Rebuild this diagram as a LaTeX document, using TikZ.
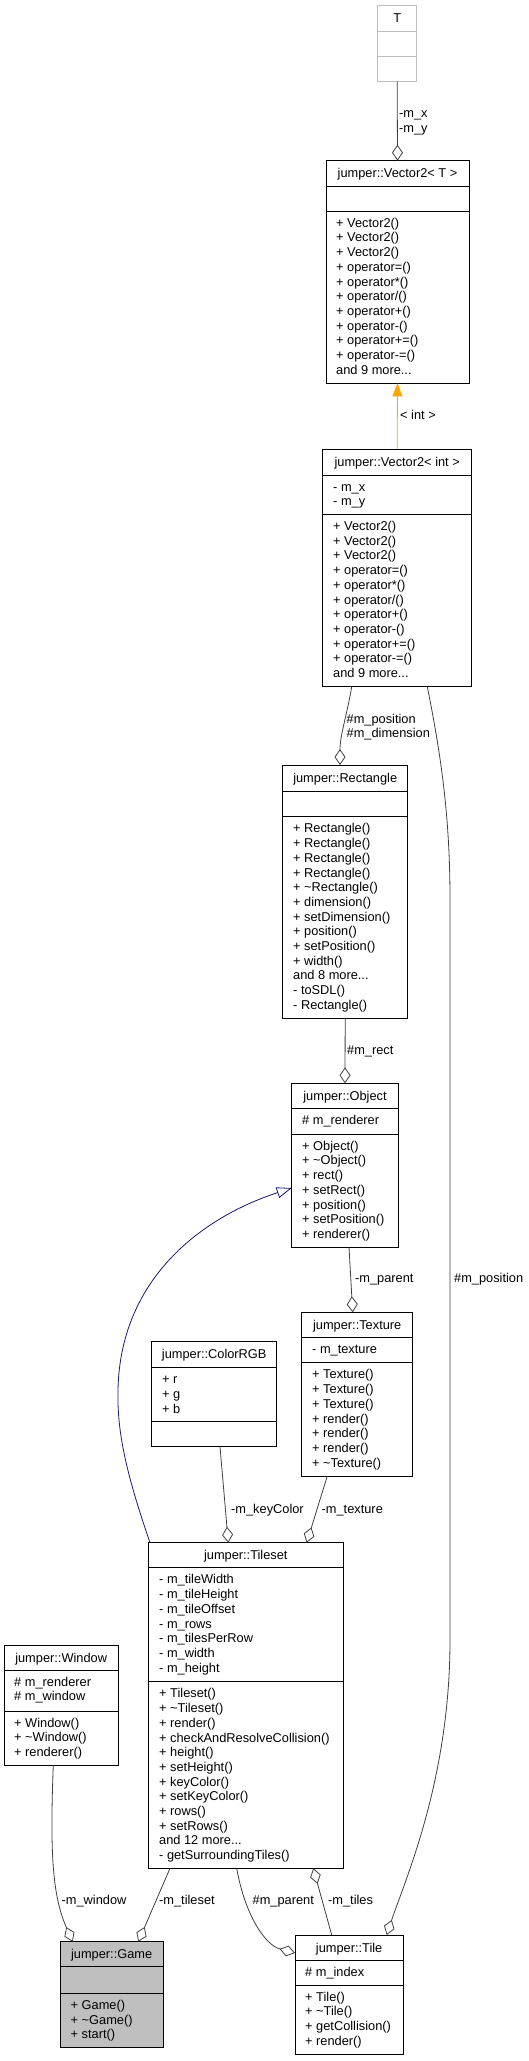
\documentclass[tikz,border=0pt]{standalone}
\usepackage{fontspec}
\setmainfont{Liberation Sans}
\usetikzlibrary{arrows.meta}
\definecolor{edgegray}{HTML}{404040}
\definecolor{boxgray}{HTML}{BFBFBF}
\definecolor{lightframe}{HTML}{BFBFBF}
\definecolor{inhblue}{HTML}{191970}
\definecolor{tmplorange}{HTML}{FFA500}
\newcommand\fs{\fontsize{12.8}{14.7}\selectfont}
\newcommand\dotz{...}
\tikzset{
  x=1pt, y=-1pt,
  box/.style={draw=black, line width=1pt, fill=white, inner sep=0pt, outer sep=0pt},
  tbox/.style={box, draw=lightframe},
  gbox/.style={box, fill=boxgray},
  divl/.style={line width=1pt},
  tdivl/.style={line width=1pt, draw=lightframe},
  ttl/.style={anchor=base, inner sep=0pt, font=\fs},
  mem/.style={anchor=base west, inner sep=0pt, font=\fs},
  lbl/.style={anchor=base west, inner sep=0pt, font=\fs},
  rel/.style={draw=edgegray, line width=0.8pt},
  agg/.style={rel, -{Diamond[length=16pt, width=11pt, fill=white, line width=0.8pt]}},
  inh/.style={draw=inhblue, line width=0.8pt, -{Triangle[open, length=15pt, width=11pt, line width=0.8pt]}},
  tmpl/.style={draw=tmplorange, line width=0.8pt, -{Triangle[length=13pt, width=10pt]}},
}
% #1 name, #2 left, #3 top, #4 right, #5 bottom, #6 style, #7 title, #8 dividers, #9 divider style
\newcommand\umlclass[9]{%
  \node[#6, anchor=north west, minimum width={(#4-#2)*1pt}, minimum height={(#5-#3)*1pt}] (#1) at (#2,#3) {};
  \foreach \d in {#8} \draw[#9] (#2,\d) -- (#4,\d);
  \node[ttl] (#1-title) at ({(#2+#4)/2},{#3+17}) {#7};
}
% #1 prefix, #2 x, #3 section top, #4 list
\newcommand\umlmembers[4]{%
  \foreach \t [count=\i from 0] in {#4} \node[mem] (#1\i) at (#2,{#3+16.2+\i*14.7}) {\t};
}
\begin{document}
\begin{tikzpicture}
\useasboundingbox (0,0) rectangle (529,2061);

% T
\umlclass{T}{377.7}{5.7}{416.7}{81.7}{tbox}{T}{31,56.7}{tdivl}

% Vector2<T>
\umlclass{vect}{326}{160.7}{469}{383.3}{box}{jumper::Vector2< T >}{186,211}{divl}
\umlmembers{vectm}{336}{211}{+ Vector2(),+ Vector2(),+ Vector2(),+ operator=(),+ operator*(),+ operator/(),+ operator+(),+ operator-(),+ operator+=(),+ operator-=(),and 9 more\dotz}

% Vector2<int>
\umlclass{veci}{322.7}{449}{471.7}{686.7}{box}{jumper::Vector2< int >}{475,514.3}{divl}
\umlmembers{vecia}{333}{475}{- m\_x,- m\_y}
\umlmembers{vecim}{333}{514.3}{+ Vector2(),+ Vector2(),+ Vector2(),+ operator=(),+ operator*(),+ operator/(),+ operator+(),+ operator-(),+ operator+=(),+ operator-=(),and 9 more\dotz}

% Rectangle
\umlclass{rect}{282.7}{765}{407.7}{1018.3}{box}{jumper::Rectangle}{791,816.7}{divl}
\umlmembers{rectm}{293}{816.7}{+ Rectangle(),+ Rectangle(),+ Rectangle(),+ Rectangle(),+ \textasciitilde Rectangle(),+ dimension(),+ setDimension(),+ position(),+ setPosition(),+ width(),and 8 more\dotz,- toSDL(),- Rectangle()}

% Object
\umlclass{obj}{291.7}{1083.3}{398.3}{1247.3}{box}{jumper::Object}{1108.7,1134}{divl}
\umlmembers{obja}{302}{1108.7}{\# m\_renderer}
\umlmembers{objm}{302}{1134}{+ Object(),+ \textasciitilde Object(),+ rect(),+ setRect(),+ position(),+ setPosition(),+ renderer()}

% Texture
\umlclass{tex}{301.7}{1312.3}{412.7}{1476}{box}{jumper::Texture}{1337.3,1362.7}{divl}
\umlmembers{texa}{312}{1337.3}{- m\_texture}
\umlmembers{texm}{312}{1362.7}{+ Texture(),+ Texture(),+ Texture(),+ render(),+ render(),+ render(),+ \textasciitilde Texture()}

% ColorRGB
\umlclass{rgb}{151.7}{1341.7}{276.7}{1446.7}{box}{jumper::ColorRGB}{1367.7,1421.7}{divl}
\umlmembers{rgba}{162}{1367.7}{+ r,+ g,+ b}

% Tileset
\umlclass{tiles}{148.3}{1542.7}{343.3}{1868.3}{box}{jumper::Tileset}{1567.7,1681.7}{divl}
\umlmembers{tilesa}{159}{1567.7}{- m\_tileWidth,- m\_tileHeight,- m\_tileOffset,- m\_rows,- m\_tilesPerRow,- m\_width,- m\_height}
\umlmembers{tilesm}{159}{1681.7}{+ Tileset(),+ \textasciitilde Tileset(),+ render(),+ checkAndResolveCollision(),+ height(),+ setHeight(),+ keyColor(),+ setKeyColor(),+ rows(),+ setRows(),and 12 more\dotz,- getSurroundingTiles()}

% Window
\umlclass{win}{4}{1645}{118.3}{1765}{box}{jumper::Window}{1670,1711}{divl}
\umlmembers{wina}{14}{1670}{\# m\_renderer,\# m\_window}
\umlmembers{winm}{14}{1711}{+ Window(),+ \textasciitilde Window(),+ renderer()}

% Game
\umlclass{game}{60}{1941.7}{163.3}{2047.3}{gbox}{jumper::Game}{1966.7,1993.3}{divl}
\umlmembers{gamem}{70.5}{1993.3}{+ Game(),+ \textasciitilde Game(),+ start()}

% Tile
\umlclass{tile}{295}{1935}{403.3}{2054.3}{box}{jumper::Tile}{1960,1985}{divl}
\umlmembers{tilea}{305}{1960}{\# m\_index}
\umlmembers{tilem}{305}{1985}{+ Tile(),+ \textasciitilde Tile(),+ getCollision(),+ render()}

% ---- connectors ----
\draw[agg] (T.south) -- (vect.north);
\node[lbl] (lmx) at (399,117.5) {-m\_x};
\node[lbl] (lmy) at (399,132) {-m\_y};

\draw[tmpl] (veci.north) -- (vect.south);
\node[lbl] (lint) at (400,419.5) {< int >};

\draw[agg] ([xshift=29pt]veci.south west) .. controls (347,715) and (340,735) .. ([xshift=-5.2pt]rect.north);
\node[lbl] (lpos1) at (346.5,723.5) {\#m\_position};
\node[lbl] (ldim) at (346.5,737.5) {\#m\_dimension};

\draw[agg] ([xshift=104.6pt]veci.south west) .. controls (442,760) and (450,820) .. (450,900)
  -- (450,1640) .. controls (450,1780) and (405,1880) .. ([xshift=91.7pt]tile.north west);
\node[lbl] (lpos2) at (454,1282.5) {\#m\_position};

\draw[agg] (rect.south) -- (obj.north);
\node[lbl] (lrect) at (347,1054.5) {\#m\_rect};

\draw[agg] ([xshift=57.3pt]obj.south west) -- ([xshift=51pt]tex.north west);
\node[lbl] (lpar1) at (355,1282.5) {-m\_parent};

\draw[inh] ([xshift=1.7pt]tiles.north west) .. controls (125,1470) and (117,1430) .. (118,1390)
  .. controls (120,1280) and (200,1218) .. ([yshift=-22.7pt]obj.west);

\draw[agg] ([xshift=68.3pt]rgb.south west) -- ([xshift=80pt]tiles.north west);
\node[lbl] (lkey) at (231,1513.5) {-m\_keyColor};

\draw[agg] ([xshift=25.6pt]tex.south west) -- ([xshift=158.4pt]tiles.north west);
\node[lbl] (ltex) at (321.5,1513.5) {-m\_texture};

\draw[agg] ([xshift=49.3pt]win.south west) .. controls (50,1850) and (52,1895) .. ([xshift=12.7pt]game.north west);
\node[lbl] (lwin) at (61.5,1904.5) {-m\_window};

\draw[agg] ([xshift=21.7pt]tiles.south west) -- ([xshift=78.3pt]game.north west);
\node[lbl] (ltset) at (159,1904.5) {-m\_tileset};

\draw[agg] ([xshift=88.4pt]tiles.south west) .. controls (245,1915) and (265,1945) .. ([yshift=-18pt]tile.north west);
\node[lbl] (lpar2) at (252.5,1904.5) {\#m\_parent};

\draw[agg] ([xshift=36.7pt]tile.north west) -- ([xshift=165pt]tiles.south west);
\node[lbl] (ltiles) at (328,1904.5) {-m\_tiles};
\end{tikzpicture}
\end{document}
